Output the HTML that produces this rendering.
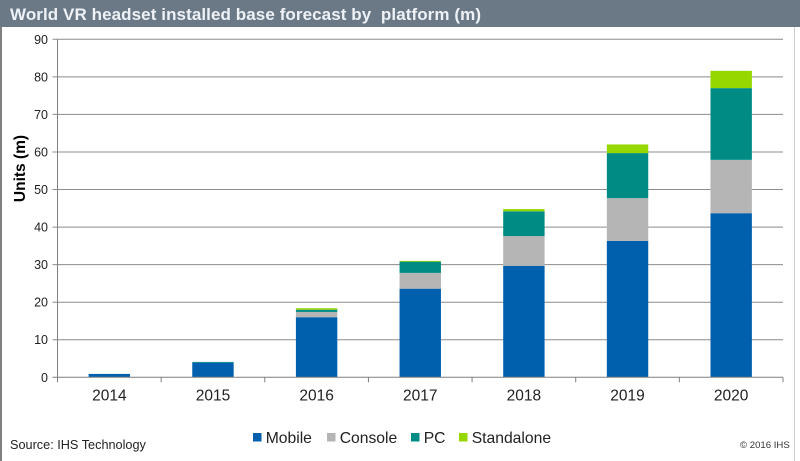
<!DOCTYPE html>
<html>
<head>
<meta charset="utf-8">
<style>
html,body{margin:0;padding:0;background:#fff;}
svg{display:block;font-family:"Liberation Sans",sans-serif;}
</style>
</head>
<body>
<svg id="chart" width="800" height="461" viewBox="0 0 800 461" xmlns="http://www.w3.org/2000/svg">
  <rect x="0" y="0" width="800" height="461" fill="#ffffff"/>
  <rect x="0" y="0" width="2" height="461" fill="#7f7f7f"/>
  <rect x="794" y="27" width="1" height="434" fill="#cfcfcf"/>
  <rect x="0" y="0" width="800" height="27" fill="#6b7987"/>
  <text x="10" y="20" font-size="17" font-weight="700" fill="#eef2f6" textLength="471" lengthAdjust="spacing">World VR headset installed base forecast by&#160;&#160;platform (m)</text>
  <g id="grid"></g>
  <g id="bars"></g>
  <g id="axes"></g>
  <text transform="translate(25,168.5) rotate(-90)" text-anchor="middle" font-size="15.5" font-weight="700" fill="#000">Units (m)</text>
  <g id="legend"></g>
  <text x="10" y="449" font-size="12.7" fill="#222">Source: IHS Technology</text>
  <text x="740" y="448" font-size="9.6" fill="#333">© 2016 IHS</text>
</svg>
<script>
var categories = ['2014','2015','2016','2017','2018','2019','2020'];
var mobile = [0.9, 3.9, 16.0, 23.6, 29.7, 36.3, 43.7];
var consoleUnits = [0, 0, 1.4, 4.2, 7.9, 11.4, 14.2];
var pc = [0, 0.2, 0.6, 3.0, 6.6, 12.0, 19.1];
var standalone = [0, 0, 0.4, 0.2, 0.6, 2.3, 4.6];
var seriesNames = ['Mobile','Console','PC','Standalone'];
var yTicks = [0,10,20,30,40,50,60,70,80,90];

var seriesValues = [mobile, consoleUnits, pc, standalone];
var seriesColors = ['#0060ae','#b5b5b5','#008c85','#97d700'];
var NS = 'http://www.w3.org/2000/svg';
var plotLeft = 57.5, plotRight = 783, plotTop = 39.3, plotBottom = 377.3, yMax = 90;
function y(v){ return plotBottom - (v / yMax) * (plotBottom - plotTop); }
function band(){ return (plotRight - plotLeft) / categories.length; }
function x(i){ return plotLeft + band() * (i + 0.5); }
function make(tag, attrs, parent){
  var el = document.createElementNS(NS, tag);
  for (var k in attrs) el.setAttribute(k, attrs[k]);
  parent.appendChild(el);
  return el;
}
var grid = document.getElementById('grid');
var axes = document.getElementById('axes');
var bars = document.getElementById('bars');
var legend = document.getElementById('legend');

yTicks.forEach(function(t){
  var line = make('line', {x1: plotLeft - 5, x2: plotRight, y1: y(t), y2: y(t), stroke: t === 0 ? '#808080' : '#8c8c8c', 'stroke-width': 1}, t === 0 ? axes : grid);
  
  
  var label = make('text', {x: 48, y: y(t) + 4.5, 'text-anchor': 'end', 'font-size': 12.5, fill: '#222'}, axes);
  
  
  label.textContent = t;
});
var yAxis = make('line', {x1: plotLeft, x2: plotLeft, y1: plotTop, y2: plotBottom, stroke: '#808080', 'stroke-width': 1}, axes);



categories.forEach(function(c, i){
  var tx = plotLeft + band() * i;
  var tick = make('line', {x1: tx, x2: tx, y1: plotBottom, y2: plotBottom + 5, stroke: '#808080', 'stroke-width': 1}, axes);
  
  
  var label = make('text', {x: x(i), y: plotBottom + 23, 'text-anchor': 'middle', 'font-size': 15.5, fill: '#222'}, axes);
  
  
  label.textContent = c;
  var cum = 0;
  seriesValues.forEach(function(vals, s){
    var v = vals[i];
    if (!v) return;
    var top = y(cum + v), bot = y(cum);
    var bar = make('rect', {x: x(i) - 20.7, y: top, width: 41.4, height: bot - top, fill: seriesColors[s]}, bars);
    
    
    cum += v;
  });
});
var lastTick = make('line', {x1: plotRight, x2: plotRight, y1: plotBottom, y2: plotBottom + 5, stroke: '#808080', 'stroke-width': 1}, axes);



var legendSwatchX = [253, 327, 411, 459];
var legendFontSize = 15.7;
seriesNames.forEach(function(n, s){
  var swatch = make('rect', {x: legendSwatchX[s], y: 433, width: 8.5, height: 8.5, fill: seriesColors[s]}, legend);
  
  
  var label = make('text', {x: legendSwatchX[s] + 12.7, y: 443, 'font-size': legendFontSize, fill: '#222'}, legend);
  
  
  label.textContent = n;
});
</script>
</body>
</html>
